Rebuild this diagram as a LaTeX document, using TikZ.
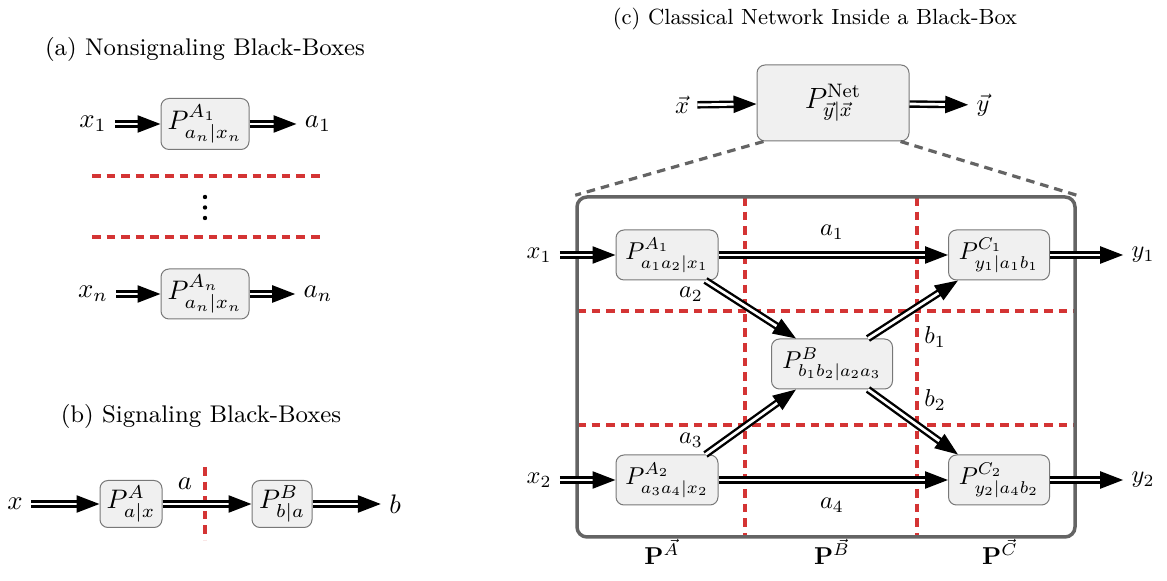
\documentclass[tikz,border=0pt]{standalone}
\usepackage{graphicx}
\usetikzlibrary{arrows.meta,calc}
\definecolor{redd}{RGB}{212,52,52}
\definecolor{boxfill}{RGB}{240,240,240}
\definecolor{boxline}{RGB}{120,120,120}
\definecolor{bigline}{RGB}{100,100,100}
\newcommand{\sab}[1]{\scalebox{1.34}{#1}}
\newcommand{\scc}[1]{\scalebox{1.22}{#1}}
\begin{document}
\begin{tikzpicture}[x=0.5pt,y=-0.5pt,
  bx/.style={draw=boxline, fill=boxfill, rounded corners=4pt, line width=0.5pt, inner sep=1pt},
  dbl/.style={draw=black, double=white, line width=1.2pt, double distance=1.35pt, -{Triangle[length=11.5pt,width=8.5pt]}},
  lbl/.style={inner sep=4pt},
  reddash/.style={draw=redd, line width=1.6pt, dash pattern=on 4.3pt off 3pt},
  graydash/.style={draw=bigline, line width=1.6pt, dash pattern=on 4.3pt off 3pt},
]
\useasboundingbox (0,0) rectangle (1167,581);

% ---------- (a)
\node (ta) at (205,49) {\sab{\small (a) Nonsignaling Black-Boxes}};
\node[bx,minimum width=44pt,minimum height=25.5pt] (A1a) at (205,124) {\sab{$P^{A_1}_{a_n|x_n}$}};
\node[bx,minimum width=44pt,minimum height=25pt] (Ana) at (205,294) {\sab{$P^{A_n}_{a_n|x_n}$}};
\node[lbl] (x1a) at (93,124) {\sab{$x_1$}};
\node[lbl] (a1a) at (318,124) {\sab{$a_1$}};
\node[lbl] (xna) at (93,294) {\sab{$x_n$}};
\node[lbl] (ana) at (318,294) {\sab{$a_n$}};
\draw[dbl] (x1a) -- (A1a);
\draw[dbl] (A1a) -- (a1a);
\draw[dbl] (xna) -- (Ana);
\draw[dbl] (Ana) -- (ana);
\draw[reddash] (92,176) -- (320,176);
\draw[reddash] (92,237) -- (320,237);
\fill (205,197) circle (2.2);
\fill (205,207.5) circle (2.2);
\fill (205,218) circle (2.2);

% ---------- (b)
\node (tb) at (201,416) {\sab{\small (b) Signaling Black-Boxes}};
\node[bx,minimum width=31pt,minimum height=23.5pt] (PA) at (131,504) {\sab{$P^{A}_{a|x}$}};
\node[bx,minimum width=30pt,minimum height=23.5pt] (PB) at (282,504) {\sab{$P^{B}_{b|a}$}};
\node[lbl] (xb) at (15,504) {\sab{$x$}};
\node[lbl] (bb) at (395,504) {\sab{$b$}};
\node (ab) at (185,484) {\sab{$a$}};
\draw[reddash] (205,467) -- (205,540);
\draw[dbl] (xb) -- (PA);
\draw[dbl] (PA) -- (PB);
\draw[dbl] (PB) -- (bb);

% ---------- (c)
\node (tcc) at (815,19) {\scc{\small (c) Classical Network Inside a Black-Box}};
\node[bx,minimum width=76pt,minimum height=38pt] (Net) at (833,103) {\scc{\large $P^{\mathrm{Net}}_{\vec y|\vec x}$}};
\node[lbl] (xv) at (682,105) {\scc{$\vec x$}};
\node[lbl] (yv) at (983,105) {\scc{$\vec y$}};
\draw[dbl] (xv) -- (Net);
\draw[dbl] (Net) -- (yv);

\draw[reddash] (745,197) -- (745,537);
\draw[reddash] (917,197) -- (917,537);
\draw[reddash] (577,311) -- (1075,311);
\draw[reddash] (577,425) -- (1075,425);
\node[draw=bigline, line width=1.75pt, rounded corners=5pt, minimum width=249pt, minimum height=170pt, inner sep=0] (NB) at (826,367) {};
\draw[graydash] ($(Net.south west)+(7,0)$) -- (NB.north west);
\draw[graydash] ($(Net.south east)+(-9,0)$) -- (NB.north east);

\node[bx,minimum width=51pt,minimum height=25pt] (A1) at (667,255) {\scc{$P^{A_1}_{a_1a_2|x_1}$}};
\node[bx,minimum width=51pt,minimum height=25pt] (A2) at (667,480) {\scc{$P^{A_2}_{a_3a_4|x_2}$}};
\node[bx,minimum width=60.5pt,minimum height=25pt] (B) at (832,364) {\scc{$P^{B}_{b_1b_2|a_2a_3}$}};
\node[bx,minimum width=50.5pt,minimum height=25pt] (C1) at (999,255) {\scc{$P^{C_1}_{y_1|a_1b_1}$}};
\node[bx,minimum width=50.5pt,minimum height=25pt] (C2) at (999,480) {\scc{$P^{C_2}_{y_2|a_4b_2}$}};
\node[lbl] (x1) at (539,255) {\scc{$x_1$}};
\node[lbl] (x2) at (539,480) {\scc{$x_2$}};
\node[lbl] (y1) at (1143,255) {\scc{$y_1$}};
\node[lbl] (y2) at (1143,480) {\scc{$y_2$}};
\draw[dbl] (x1) -- (A1);
\draw[dbl] (x2) -- (A2);
\draw[dbl] (C1) -- (y1);
\draw[dbl] (C2) -- (y2);
\draw[dbl] (A1) -- (C1);
\draw[dbl] (A2) -- (C2);
\draw[dbl] ($(A1.south east)+(-13,0)$) -- ($(B.north west)+(25,0)$);
\draw[dbl] ($(A2.north east)+(-13,0)$) -- ($(B.south west)+(25,0)$);
\draw[dbl] ($(B.north east)+(-25,0)$) -- ($(C1.south west)+(10,0)$);
\draw[dbl] ($(B.south east)+(-25,0)$) -- ($(C2.north west)+(10,0)$);

\node (la1) at (832,232) {\scc{$a_1$}};
\node (la4) at (832,505) {\scc{$a_4$}};
\node (la2) at (691,294) {\scc{$a_2$}};
\node (la3) at (691,440) {\scc{$a_3$}};
\node (lb1) at (935,337) {\scc{$b_1$}};
\node (lb2) at (935,400) {\scc{$b_2$}};
\node (PvA) at (662,552) {\scc{$\mathbf{P}^{\vec A}$}};
\node (PvB) at (832,552) {\scc{$\mathbf{P}^{\vec B}$}};
\node (PvC) at (1000,552) {\scc{$\mathbf{P}^{\vec C}$}};
\end{tikzpicture}
\end{document}
